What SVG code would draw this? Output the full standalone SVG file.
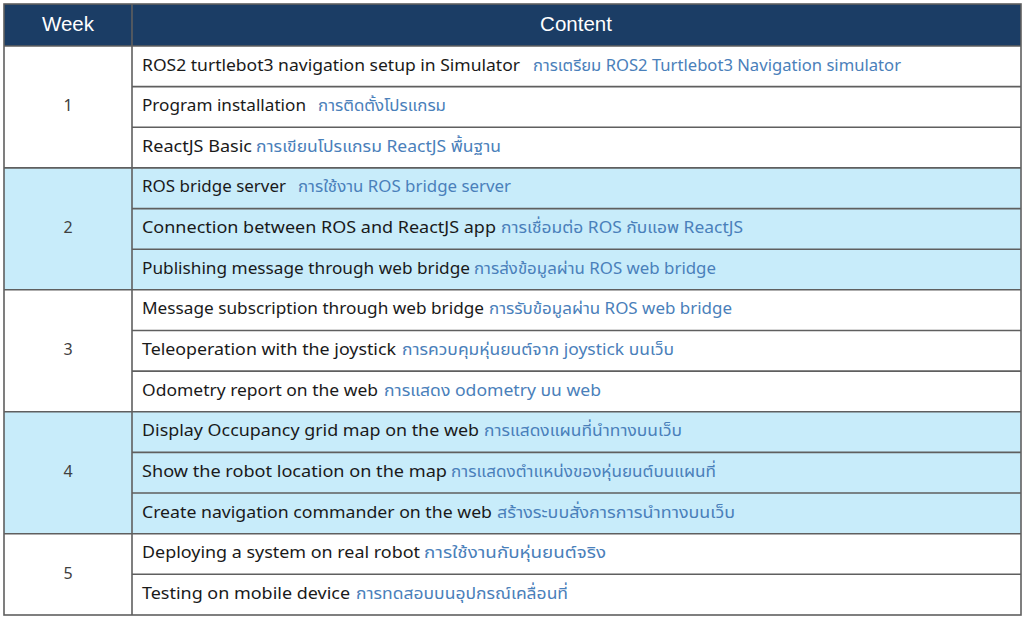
<svg xmlns="http://www.w3.org/2000/svg" width="1024" height="619" viewBox="0 0 1024 619">
<style>
.hdr{fill:#1b3d65}
.band{fill:#c8ecfa}
.line{stroke:#5f5f5f;stroke-width:1.6;fill:none}
.ht{font-family:"Liberation Sans",Arial,sans-serif;font-size:20.5px;fill:#ffffff;text-anchor:middle}
.wk{font-family:"Noto Sans","DejaVu Sans",sans-serif;font-size:16px;fill:#404040;text-anchor:middle}
.en{font-family:"Noto Sans","Noto Sans Thai","DejaVu Sans",sans-serif;font-size:16.5px;fill:#1a1a1a}
.th{font-family:"Noto Sans Thai","Noto Sans","Loma","Garuda","DejaVu Sans",sans-serif;font-size:16.5px;fill:#4a80ba}
</style>
<rect x="0" y="0" width="1024" height="619" fill="#ffffff"/>
<g id="header">
<rect class="hdr" x="4" y="4" width="1017" height="42"/>
<text class="ht" x="68" y="30.5">Week</text>
<text class="ht" x="576" y="30.5">Content</text>
</g>
<g id="bands">
<rect class="band" x="4" y="167.9" width="1017" height="121.9"/>
<rect class="band" x="4" y="411.8" width="1017" height="121.9"/>
</g>
<g id="weeks">
<text id="week1" class="wk" x="68" y="111">1</text>
<text id="week2" class="wk" x="68" y="233">2</text>
<text id="week3" class="wk" x="68" y="355">3</text>
<text id="week4" class="wk" x="68" y="477">4</text>
<text id="week5" class="wk" x="68" y="578.5">5</text>
</g>
<g id="rows">
<g id="r1"><text class="en" x="142" y="70.5" textLength="378" lengthAdjust="spacingAndGlyphs">ROS2 turtlebot3 navigation setup in Simulator</text><text class="th" x="533" y="70.5" textLength="368" lengthAdjust="spacingAndGlyphs">การเตรียม ROS2 Turtlebot3 Navigation simulator</text></g>
<g id="r2"><text class="en" x="142" y="111.1" textLength="164" lengthAdjust="spacingAndGlyphs">Program installation</text><text class="th" x="318" y="111.1" textLength="128" lengthAdjust="spacingAndGlyphs">การติดตั้งโปรแกรม</text></g>
<g id="r3"><text class="en" x="142" y="151.8" textLength="110" lengthAdjust="spacingAndGlyphs">ReactJS Basic</text><text class="th" x="256" y="151.8" textLength="245" lengthAdjust="spacingAndGlyphs">การเขียนโปรแกรม ReactJS พื้นฐาน</text></g>
<g id="r4"><text class="en" x="142" y="192.4" textLength="144" lengthAdjust="spacingAndGlyphs">ROS bridge server</text><text class="th" x="298" y="192.4" textLength="213" lengthAdjust="spacingAndGlyphs">การใช้งาน ROS bridge server</text></g>
<g id="r5"><text class="en" x="142" y="233.1" textLength="354" lengthAdjust="spacingAndGlyphs">Connection between ROS and ReactJS app</text><text class="th" x="501" y="233.1" textLength="242" lengthAdjust="spacingAndGlyphs">การเชื่อมต่อ ROS กับแอพ ReactJS</text></g>
<g id="r6"><text class="en" x="142" y="273.7" textLength="328" lengthAdjust="spacingAndGlyphs">Publishing message through web bridge</text><text class="th" x="474" y="273.7" textLength="242" lengthAdjust="spacingAndGlyphs">การส่งข้อมูลผ่าน ROS web bridge</text></g>
<g id="r7"><text class="en" x="142" y="314.3" textLength="342" lengthAdjust="spacingAndGlyphs">Message subscription through web bridge</text><text class="th" x="489" y="314.3" textLength="243" lengthAdjust="spacingAndGlyphs">การรับข้อมูลผ่าน ROS web bridge</text></g>
<g id="r8"><text class="en" x="142" y="355" textLength="254" lengthAdjust="spacingAndGlyphs">Teleoperation with the joystick</text><text class="th" x="402" y="355" textLength="272" lengthAdjust="spacingAndGlyphs">การควบคุมหุ่นยนต์จาก joystick บนเว็บ</text></g>
<g id="r9"><text class="en" x="142" y="395.6" textLength="236" lengthAdjust="spacingAndGlyphs">Odometry report on the web</text><text class="th" x="384" y="395.6" textLength="217" lengthAdjust="spacingAndGlyphs">การแสดง odometry บน web</text></g>
<g id="r10"><text class="en" x="142" y="436.3" textLength="337" lengthAdjust="spacingAndGlyphs">Display Occupancy grid map on the web</text><text class="th" x="484" y="436.3" textLength="198" lengthAdjust="spacingAndGlyphs">การแสดงแผนที่นำทางบนเว็บ</text></g>
<g id="r11"><text class="en" x="142" y="476.9" textLength="305" lengthAdjust="spacingAndGlyphs">Show the robot location on the map</text><text class="th" x="451" y="476.9" textLength="265" lengthAdjust="spacingAndGlyphs">การแสดงตำแหน่งของหุ่นยนต์บนแผนที่</text></g>
<g id="r12"><text class="en" x="142" y="517.5" textLength="350" lengthAdjust="spacingAndGlyphs">Create navigation commander on the web</text><text class="th" x="497" y="517.5" textLength="238" lengthAdjust="spacingAndGlyphs">สร้างระบบสั่งการการนำทางบนเว็บ</text></g>
<g id="r13"><text class="en" x="142" y="558.2" textLength="278" lengthAdjust="spacingAndGlyphs">Deploying a system on real robot</text><text class="th" x="424" y="558.2" textLength="182" lengthAdjust="spacingAndGlyphs">การใช้งานกับหุ่นยนต์จริง</text></g>
<g id="r14"><text class="en" x="142" y="598.8" textLength="208" lengthAdjust="spacingAndGlyphs">Testing on mobile device</text><text class="th" x="356" y="598.8" textLength="212" lengthAdjust="spacingAndGlyphs">การทดสอบบนอุปกรณ์เคลื่อนที่</text></g>
</g>
<g id="grid">
<path class="line" d="M132 86.6H1021M132 127.3H1021M4 167.9H1021M132 208.6H1021M132 249.2H1021M4 289.8H1021M132 330.5H1021M132 371.1H1021M4 411.8H1021M132 452.4H1021M132 493H1021M4 533.7H1021M132 574.3H1021"/>
<path class="line" d="M4 46H1021"/>
<path class="line" d="M132 4V615"/>
<rect class="line" x="4" y="4" width="1017" height="611" stroke="#555555"/>
</g>
</svg>
